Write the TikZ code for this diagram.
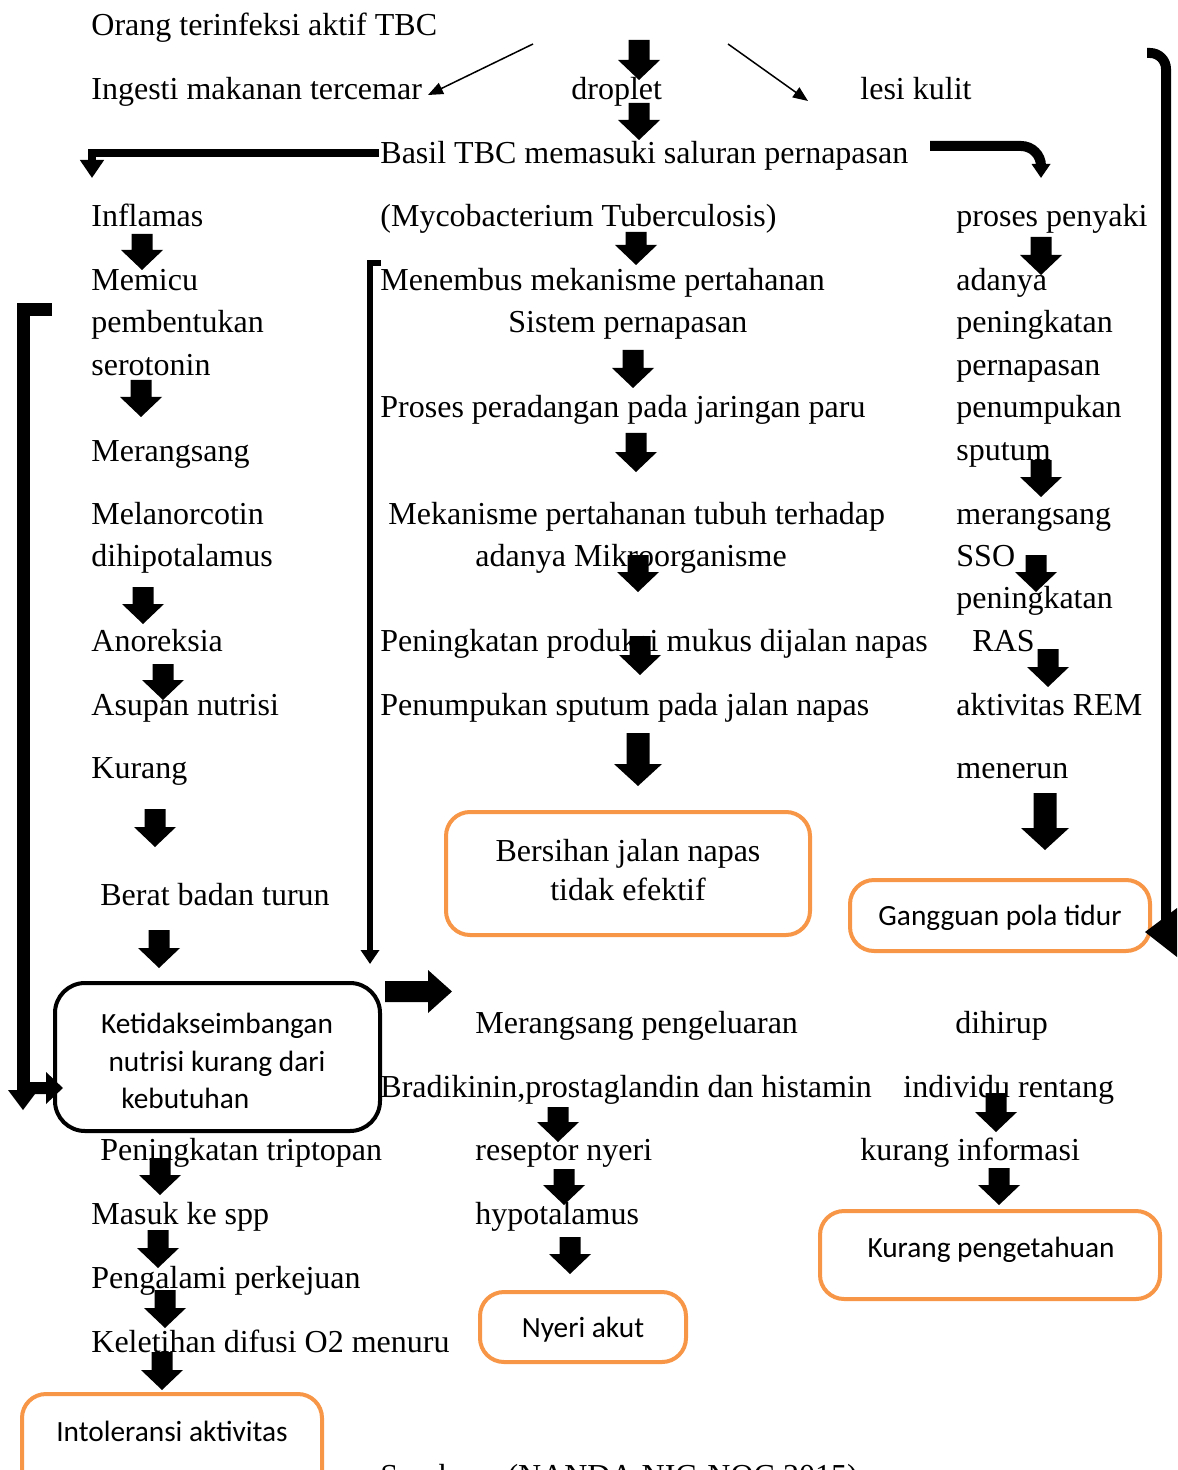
\documentclass[tikz,border=0pt]{standalone}
\usepackage{fontspec}
\setmainfont{Liberation Serif}
\newfontfamily\calibrifont{Carlito}
\usetikzlibrary{arrows.meta}
\definecolor{borange}{HTML}{F79646}
\newcommand\darr[3]{\fill (#1-10.5,#2) -- (#1+10.5,#2) -- (#1+10.5,#3-20) -- (#1+21,#3-20) -- (#1,#3) -- (#1-21,#3-20) -- (#1-10.5,#3-20) -- cycle;}
\newcommand\Darr[3]{\fill (#1-11.5,#2) -- (#1+11.5,#2) -- (#1+11.5,#3-22) -- (#1+24,#3-22) -- (#1,#3) -- (#1-24,#3-22) -- (#1-11.5,#3-22) -- cycle;}
\tikzset{
 txt/.style={anchor=base west, inner sep=0pt, yshift=-1pt, font=\fontsize{16}{19}\selectfont},
 ctxt/.style={anchor=base, inner sep=0pt, yshift=-1pt, font=\fontsize{16}{19}\selectfont},
 stxt/.style={anchor=base, inner sep=0pt, yshift=-0.5pt, font=\calibrifont\fontsize{14.67}{18}\selectfont},
 stxtl/.style={anchor=base west, inner sep=0pt, yshift=-0.5pt, font=\calibrifont\fontsize{14.67}{18}\selectfont},
 obox/.style={draw=borange, line width=2pt, rounded corners=12pt, inner sep=0pt},
 kbox/.style={draw=black, line width=2pt, rounded corners=15pt, inner sep=0pt},
 thinarr/.style={line width=0.75pt, -{Triangle[length=7.5pt,width=6pt]}},
}
\begin{document}
\begin{tikzpicture}[x=0.5pt,y=-0.5pt]
\useasboundingbox (0,0) rectangle (1177,1470);
% boxes
\node[obox, minimum width=182pt, minimum height=61.5pt] (bx1) at (628,873.5) {};
\node[obox, minimum width=150pt, minimum height=35.5pt] (bx2) at (1000,915.5) {};
\node[kbox, minimum width=162.5pt, minimum height=74pt] (bx3) at (217.5,1057) {};
\node[obox, minimum width=103pt, minimum height=35pt] (bx4) at (583,1327) {};
\node[obox, minimum width=170pt, minimum height=44pt] (bx5) at (990,1255) {};
\node[obox, minimum width=150pt, minimum height=53pt] (bx6) at (172,1447) {};
% box texts
\node[ctxt] (bt1a) at (628,859) {Bersihan jalan napas};
\node[ctxt] (bt1b) at (628,898) {tidak efektif};
\node[stxt] (bt2) at (1000,924) {Gangguan pola tidur};
\node[stxt] (bt3a) at (217,1032) {Ketidakseimbangan};
\node[stxt] (bt3b) at (217,1070) {nutrisi kurang dari};
\node[stxtl] (bt3c) at (121,1107) {kebutuhan};
\node[stxt] (bt4) at (583,1336) {Nyeri akut};
\node[stxt] (bt5) at (991,1256) {Kurang pengetahuan};
\node[stxt] (bt6) at (172,1440) {Intoleransi aktivitas};
% texts
\node[txt] (a1) at (91,34) {Orang terinfeksi aktif TBC};
\node[txt] (a2) at (91,98) {Ingesti makanan tercemar};
\node[txt] (a3) at (571,98) {droplet};
\node[txt] (a4) at (860,98) {lesi kulit};
\node[txt] (a5) at (380,162) {Basil TBC memasuki saluran pernapasan};
\node[txt] (b1) at (91,225) {Inflamas};
\node[txt] (b2) at (380,225) {(Mycobacterium Tuberculosis)};
\node[txt] (b3) at (956,225) {proses penyaki};
\node[txt] (c1) at (91,289) {Memicu};
\node[txt] (c2) at (380,289) {Menembus mekanisme pertahanan};
\node[txt] (c3) at (956,289) {adanya};
\node[txt] (d1) at (91,331) {pembentukan};
\node[txt] (d2) at (508,331) {Sistem pernapasan};
\node[txt] (d3) at (956,331) {peningkatan};
\node[txt] (e1) at (91,374) {serotonin};
\node[txt] (e3) at (956,374) {pernapasan};
\node[txt] (f2) at (380,416) {Proses peradangan pada jaringan paru};
\node[txt] (f3) at (956,416) {penumpukan};
\node[txt] (g1) at (91,459) {Merangsang};
\node[txt] (g3) at (956,458) {sputum};
\node[txt] (h1) at (91,522) {Melanorcotin};
\node[txt] (h2) at (388,522) {Mekanisme pertahanan tubuh terhadap};
\node[txt] (h3) at (956,522) {merangsang};
\node[txt] (i1) at (91,564) {dihipotalamus};
\node[txt] (i2) at (475,564) {adanya Mikroorganisme};
\node[txt] (i3) at (956,564) {SSO};
\node[txt] (j3) at (956,606) {peningkatan};
\node[txt] (k1) at (91,649) {Anoreksia};
\node[txt] (k2) at (380,649) {Peningkatan produksi mukus dijalan napas};
\node[txt] (k3) at (972,649) {RAS};
\node[txt] (l1) at (91,713) {Asupan nutrisi};
\node[txt] (l2) at (380,713) {Penumpukan sputum pada jalan napas};
\node[txt] (l3) at (956,713) {aktivitas REM};
\node[txt] (m1) at (91,776) {Kurang};
\node[txt] (m3) at (956,776) {menerun};
\node[txt] (n1) at (100,903) {Berat badan turun};
\node[txt] (o2) at (475,1031) {Merangsang pengeluaran};
\node[txt] (o3) at (955,1031) {dihirup};
\node[txt] (p2) at (380,1095) {Bradikinin,prostaglandin dan histamin};
\node[txt] (p3) at (903,1095) {individu rentang};
\node[txt] (q1) at (100,1158) {Peningkatan triptopan};
\node[txt] (q2) at (475,1158) {reseptor nyeri};
\node[txt] (q3) at (860,1158) {kurang informasi};
\node[txt] (r1) at (91,1222) {Masuk ke spp};
\node[txt] (r2) at (475,1222) {hypotalamus};
\node[txt] (s1) at (91,1286) {Pengalami perkejuan};
\node[txt] (t1) at (91,1350) {Keletihan difusi O2 menuru};
\node[txt] (u1) at (380,1484) {Sumber : (NANDA NIC-NOC 2015)};
% thin arrows
\draw[thinarr] (533,44) -- (428,95);
\draw[thinarr] (728,44) -- (808,101);
% block down arrows
\darr{639}{40}{80}
\darr{639}{103}{140}
\darr{636}{232}{265}
\darr{142}{234}{270}
\darr{1041}{237}{275}
\darr{633}{350}{388}
\darr{141}{380}{417}
\darr{636}{433}{472}
\darr{1041}{460}{497}
\darr{638}{555}{592}
\darr{1036}{555}{592}
\darr{143}{587}{624}
\darr{640}{636}{675}
\darr{1048}{649}{687}
\darr{163}{664}{700}
\Darr{638}{733}{786}
\darr{155}{809}{847}
\darr{159}{930}{968}
\Darr{1045}{793}{850}
\darr{558}{1107}{1142}
\darr{996}{1093}{1132}
\darr{160}{1158}{1195}
\darr{564}{1169}{1205}
\darr{158}{1230}{1268}
\darr{999}{1168}{1205}
\darr{570}{1237}{1274}
\darr{165}{1290}{1328}
\darr{162}{1352}{1390}
% bent arrows
\draw[line width=4pt, -{Triangle[width=11.5pt,length=9pt]}] (379,153) -- (92,153) -- (92,178);
\draw[line width=5pt, rounded corners=10pt, -{Triangle[width=9pt,length=7pt]}] (930,146) -- (1041,146) -- (1041,178);
\draw[line width=5pt, rounded corners=8pt] (1147,53) -- (1166,53) -- (1166,933);
\fill (1145,932) -- (1177,908) -- (1177,957) -- cycle;
\draw[line width=6.5pt] (52,310) -- (23,310) -- (23,1092);
\fill (8,1090) -- (38,1090) -- (23,1110) -- cycle;
\fill (23,1082) -- (46,1082) -- (46,1072) -- (63,1088) -- (46,1104) -- (46,1094) -- (23,1094) -- cycle;
\draw[line width=3pt, -{Triangle[width=9pt,length=7pt]}] (381,263) -- (370,263) -- (370,964);
\fill (385,981) -- (428,981) -- (428,970) -- (452,991.5) -- (428,1013) -- (428,1002) -- (385,1002) -- cycle;
\end{tikzpicture}
\end{document}
